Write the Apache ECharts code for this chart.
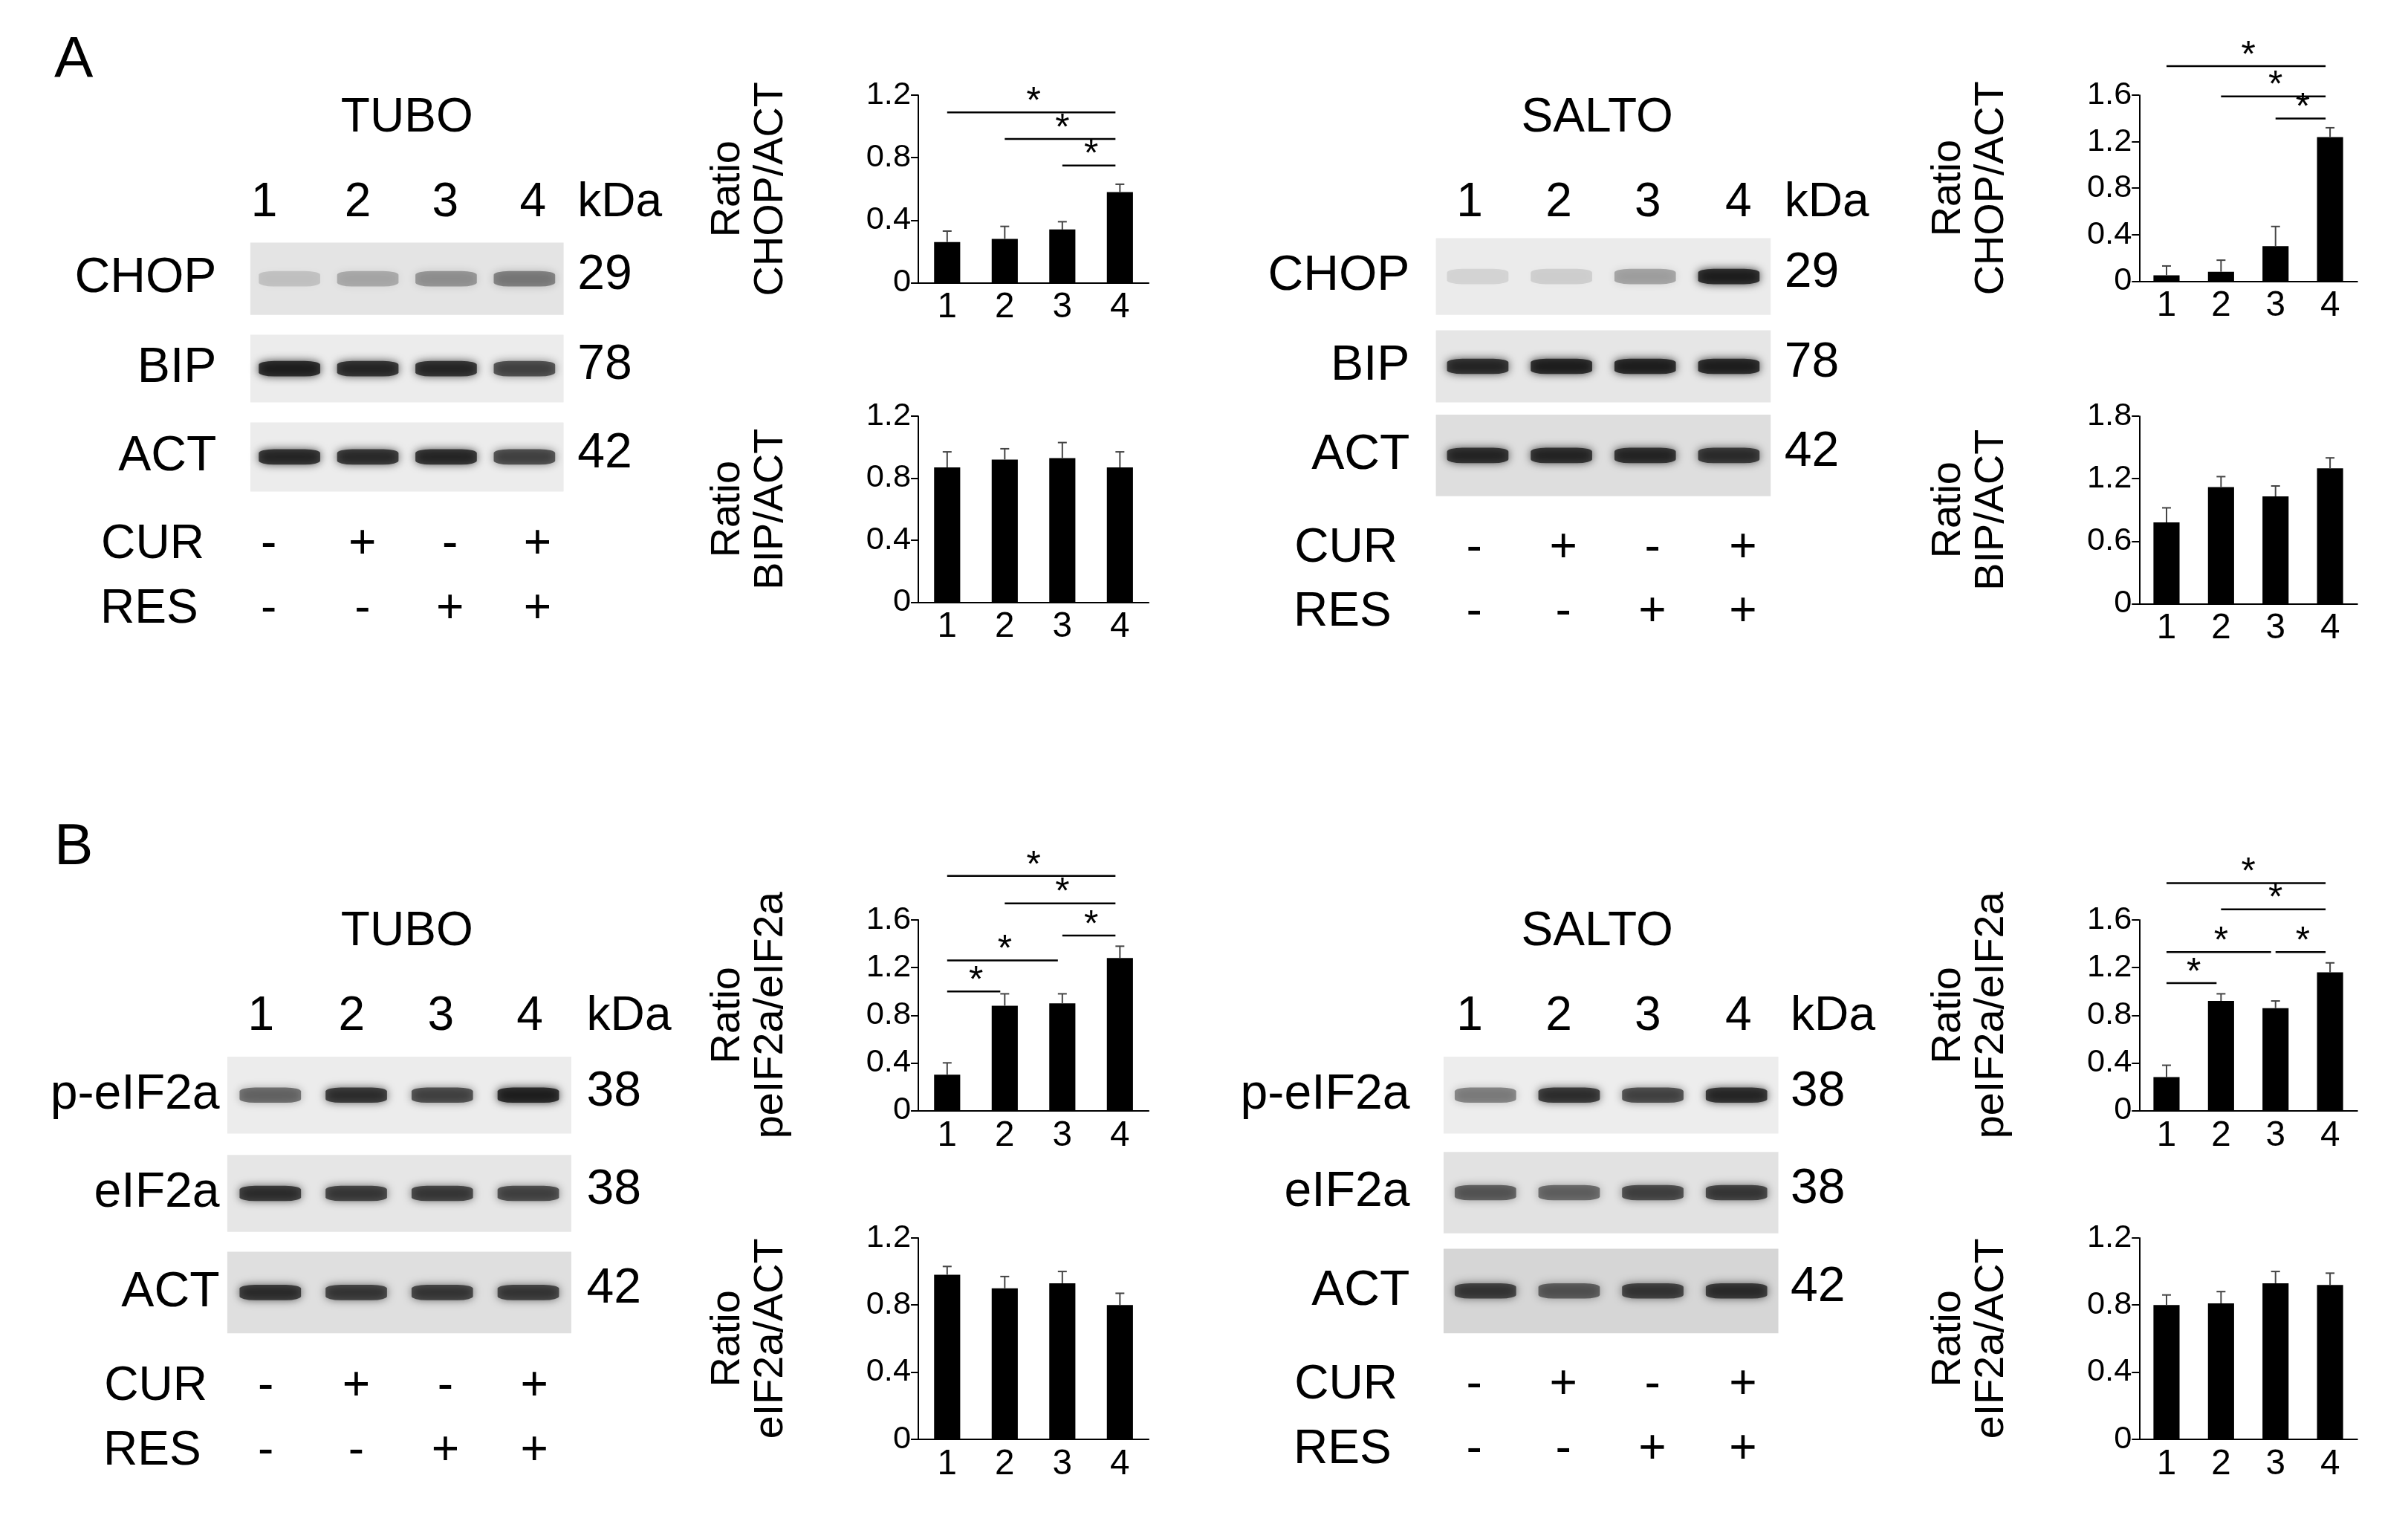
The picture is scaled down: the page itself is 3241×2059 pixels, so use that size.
<!DOCTYPE html>
<html><head><meta charset="utf-8">
<script src="https://cdn.jsdelivr.net/npm/echarts@6/dist/echarts.min.js"></script>
<style>html,body{margin:0;background:#fff}#c{width:3241px;height:2059px}</style>
</head><body><div id="c"></div>
<script>
// bar data: mean, error (upper), significance [from, to, level]
const lanes = ['1', '2', '3', '4'];
const tuboChop = [0.26, 0.28, 0.34, 0.58], tuboChopErr = [0.07, 0.08, 0.05, 0.05];
const tuboChopSig = [[0, 3, 1.09], [1, 3, 0.92], [2, 3, 0.75]];
const tuboBip = [0.87, 0.92, 0.93, 0.87], tuboBipErr = [0.1, 0.07, 0.1, 0.1];
const saltoChop = [0.05, 0.08, 0.3, 1.24], saltoChopErr = [0.08, 0.1, 0.17, 0.08];
const saltoChopSig = [[0, 3, 1.85], [1, 3, 1.59], [2, 3, 1.40]];
const saltoBip = [0.78, 1.12, 1.03, 1.3], saltoBipErr = [0.14, 0.1, 0.1, 0.1];
const tuboPeif = [0.3, 0.88, 0.9, 1.28], tuboPeifErr = [0.1, 0.1, 0.08, 0.1];
const tuboPeifSig = [[0, 3, 1.97], [1, 3, 1.74], [2, 3, 1.47], [0, 2, 1.26], [0, 1, 1.0]];
const tuboEif = [0.98, 0.9, 0.93, 0.8], tuboEifErr = [0.05, 0.07, 0.07, 0.07];
const saltoPeif = [0.28, 0.92, 0.86, 1.16], saltoPeifErr = [0.1, 0.06, 0.06, 0.08];
const saltoPeifSig = [[0, 3, 1.91], [1, 3, 1.69], [0, 2, 1.33], [2, 3, 1.33], [0, 1, 1.07]];
const saltoEif = [0.8, 0.81, 0.93, 0.92], saltoEifErr = [0.06, 0.07, 0.07, 0.07];

// blot band intensities per lane
const bandTuboChop = [0.18, 0.3, 0.4, 0.5], bandTuboBip = [0.95, 0.9, 0.9, 0.75], bandTuboAct = [0.9, 0.88, 0.9, 0.75];
const bandSaltoChop = [0.12, 0.15, 0.35, 0.95], bandSaltoBip = [0.9, 0.95, 0.95, 0.95], bandSaltoAct = [0.9, 0.9, 0.9, 0.85];
const bandTuboP = [0.6, 0.85, 0.75, 0.95], bandTuboE = [0.85, 0.8, 0.8, 0.75], bandTuboAct2 = [0.85, 0.8, 0.8, 0.8];
const bandSaltoP = [0.5, 0.85, 0.75, 0.9], bandSaltoE = [0.65, 0.6, 0.75, 0.8], bandSaltoAct2 = [0.8, 0.65, 0.8, 0.85];
const curSigns = ['-', '+', '-', '+'], resSigns = ['-', '-', '+', '+'];

const S = 3241 / 1568;
const FONT = 'Liberation Sans, Arial, sans-serif';
const grid = [], xAxis = [], yAxis = [], series = [], graphic = [];

function txt(x, y, s, size, align) {
    graphic.push({type: 'text', x: x * S, y: y * S, style: {text: s, font: (size * S) + 'px ' + FONT, fill: '#000', align: align || 'center', verticalAlign: 'middle'}});
}

function barChart(box, name, vals, errs, sig, max, step) {
    const i = grid.length;
    grid.push({left: box[0] * S, top: box[1] * S, width: box[2] * S, height: box[3] * S});
    xAxis.push({type: 'category', gridIndex: i, data: lanes,
        axisLine: {lineStyle: {color: '#000', width: 2}}, axisTick: {length: 10, lineStyle: {color: '#000', width: 2}},
        axisLabel: {color: '#000', fontSize: 23 * S, fontFamily: FONT, margin: 10}});
    yAxis.push({type: 'value', gridIndex: i, min: 0, max: max, interval: step, splitLine: {show: false},
        axisLine: {show: true, lineStyle: {color: '#000', width: 2}}, axisTick: {show: true, length: 10, lineStyle: {color: '#000', width: 2}},
        axisLabel: {color: '#000', fontSize: 21 * S, fontFamily: FONT, margin: 10},
        name: name, nameLocation: 'middle', nameGap: 82 * S, nameRotate: 90,
        nameTextStyle: {color: '#000', fontSize: 27 * S, fontFamily: FONT, lineHeight: 28 * S}});
    series.push({type: 'bar', xAxisIndex: i, yAxisIndex: i, data: vals, barWidth: 17 * S, itemStyle: {color: '#000'}, z: 2});
    series.push({type: 'custom', xAxisIndex: i, yAxisIndex: i, z: 3,
        data: vals.map((v, k) => [k, v, errs[k]]),
        renderItem: function (p, api) {
            const a = api.coord([api.value(0), api.value(1)]);
            const b = api.coord([api.value(0), api.value(1) + api.value(2)]);
            const st = {stroke: '#444', lineWidth: 2};
            return {type: 'group', children: [
                {type: 'line', shape: {x1: a[0], y1: a[1], x2: b[0], y2: b[1]}, style: st},
                {type: 'line', shape: {x1: b[0] - 6, y1: b[1], x2: b[0] + 6, y2: b[1]}, style: st}]};
        }});
    if (sig) {
        series.push({type: 'custom', xAxisIndex: i, yAxisIndex: i, z: 4, clip: false, data: sig,
            renderItem: function (p, api) {
                const a = api.coord([api.value(0), api.value(2)]);
                const b = api.coord([api.value(1), api.value(2)]);
                return {type: 'group', children: [
                    {type: 'line', shape: {x1: a[0], y1: a[1], x2: b[0] - 6, y2: b[1]}, style: {stroke: '#000', lineWidth: 2.5}},
                    {type: 'text', x: (a[0] + b[0]) / 2, y: a[1] + 12, style: {text: '*', font: (24 * S) + 'px ' + FONT, fill: '#000', align: 'center', verticalAlign: 'bottom'}}]};
            }});
    }
}

function blot(box, bands, bg) {
    const i = grid.length;
    grid.push({left: box[0] * S, top: box[1] * S, width: box[2] * S, height: box[3] * S, show: true, backgroundColor: bg, borderWidth: 0});
    xAxis.push({type: 'value', gridIndex: i, min: 0.5, max: 4.5, show: false});
    yAxis.push({type: 'value', gridIndex: i, min: 0, max: 1, show: false});
    series.push({type: 'scatter', xAxisIndex: i, yAxisIndex: i, symbol: 'roundRect', symbolSize: [40 * S, 10 * S],
        data: bands.map((v, k) => ({value: [k + 1, 0.5], itemStyle: {color: 'rgba(15,15,15,' + v + ')', shadowBlur: 12, shadowColor: 'rgba(0,0,0,' + v + ')'}})),
        silent: true});
}

function panel(opt) {
    txt(opt.titleX, opt.titleY, opt.title, 31);
    opt.laneX.forEach((x, k) => txt(x, opt.laneY, lanes[k], 31));
    txt(opt.kdaX, opt.laneY, 'kDa', 31, 'left');
    opt.rows.forEach(r => {
        blot([opt.boxX, r.top, opt.boxW, r.h], r.bands, r.bg);
        txt(opt.nameX, r.top + r.h / 2, r.name, 32, 'right');
        txt(opt.kdaX, r.top + r.h / 2 - 2, r.kda, 32, 'left');
    });
    txt(opt.nameX - 8, opt.curY, 'CUR', 31, 'right');
    txt(opt.nameX - 12, opt.curY + 42, 'RES', 31, 'right');
    opt.laneX.forEach((x, k) => {
        txt(x + 3, opt.curY, curSigns[k], 31);
        txt(x + 3, opt.curY + 42, resSigns[k], 31);
    });
}

txt(48, 40, 'A', 38);
txt(48, 552, 'B', 38);

panel({title: 'TUBO', titleX: 265, titleY: 77, laneY: 132, laneX: [172, 233, 290, 347], kdaX: 376, boxX: 163, boxW: 204, nameX: 141, curY: 355,
    rows: [{name: 'CHOP', kda: '29', top: 158, h: 47, bands: bandTuboChop, bg: '#e4e4e4'},
        {name: 'BIP', kda: '78', top: 218, h: 44, bands: bandTuboBip, bg: '#ececec'},
        {name: 'ACT', kda: '42', top: 275, h: 45, bands: bandTuboAct, bg: '#ececec'}]});
panel({title: 'SALTO', titleX: 1040, titleY: 77, laneY: 132, laneX: [957, 1015, 1073, 1132], kdaX: 1162, boxX: 935, boxW: 218, nameX: 918, curY: 357,
    rows: [{name: 'CHOP', kda: '29', top: 155, h: 50, bands: bandSaltoChop, bg: '#ebebeb'},
        {name: 'BIP', kda: '78', top: 215, h: 47, bands: bandSaltoBip, bg: '#e6e6e6'},
        {name: 'ACT', kda: '42', top: 270, h: 53, bands: bandSaltoAct, bg: '#dedede'}]});
panel({title: 'TUBO', titleX: 265, titleY: 607, laneY: 662, laneX: [170, 229, 287, 345], kdaX: 382, boxX: 148, boxW: 224, nameX: 143, curY: 903,
    rows: [{name: 'p-eIF2a', kda: '38', top: 688, h: 50, bands: bandTuboP, bg: '#ececec'},
        {name: 'eIF2a', kda: '38', top: 752, h: 50, bands: bandTuboE, bg: '#e6e6e6'},
        {name: 'ACT', kda: '42', top: 815, h: 53, bands: bandTuboAct2, bg: '#dfdfdf'}]});
panel({title: 'SALTO', titleX: 1040, titleY: 607, laneY: 662, laneX: [957, 1015, 1073, 1132], kdaX: 1166, boxX: 940, boxW: 218, nameX: 918, curY: 902,
    rows: [{name: 'p-eIF2a', kda: '38', top: 688, h: 50, bands: bandSaltoP, bg: '#ededed'},
        {name: 'eIF2a', kda: '38', top: 750, h: 53, bands: bandSaltoE, bg: '#e2e2e2'},
        {name: 'ACT', kda: '42', top: 813, h: 55, bands: bandSaltoAct2, bg: '#d6d6d6'}]});

barChart([598, 62, 150, 122], 'Ratio\nCHOP/ACT', tuboChop, tuboChopErr, tuboChopSig, 1.2, 0.4);
barChart([598, 271, 150, 121], 'Ratio\nBIP/ACT', tuboBip, tuboBipErr, null, 1.2, 0.4);
barChart([1393, 62, 142, 121], 'Ratio\nCHOP/ACT', saltoChop, saltoChopErr, saltoChopSig, 1.6, 0.4);
barChart([1393, 271, 142, 122], 'Ratio\nBIP/ACT', saltoBip, saltoBipErr, null, 1.8, 0.6);
barChart([598, 599, 150, 124], 'Ratio\npeIF2a/eIF2a', tuboPeif, tuboPeifErr, tuboPeifSig, 1.6, 0.4);
barChart([598, 806, 150, 131], 'Ratio\neIF2a/ACT', tuboEif, tuboEifErr, null, 1.2, 0.4);
barChart([1393, 599, 142, 124], 'Ratio\npeIF2a/eIF2a', saltoPeif, saltoPeifErr, saltoPeifSig, 1.6, 0.4);
barChart([1393, 806, 142, 131], 'Ratio\neIF2a/ACT', saltoEif, saltoEifErr, null, 1.2, 0.4);

const chart = echarts.init(document.getElementById('c'));
chart.setOption({animation: false, backgroundColor: '#fff', grid, xAxis, yAxis, series, graphic});
</script></body></html>
